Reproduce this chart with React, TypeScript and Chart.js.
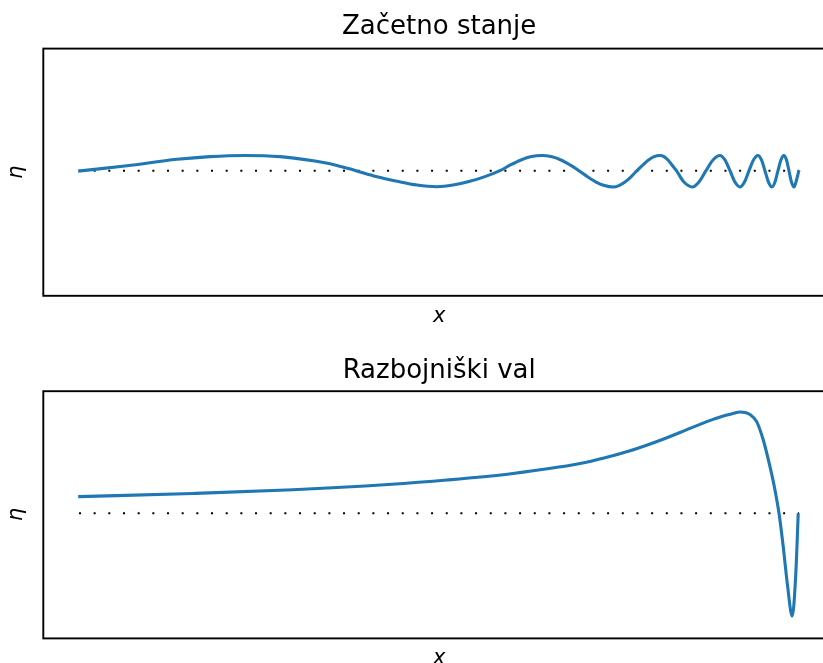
import React, { useEffect, useRef } from "react";
import { Chart, registerables } from "chart.js";

Chart.register(...registerables);

// Initial state (Začetno stanje): x positions and surface elevation η
const xInitial = [0, 6.77, 13.71, 18.29, 23.14, 27.99, 32.85, 35.9, 38.54, 41.32, 44.23, 47.0, 49.78, 52.0, 54.22, 56.44, 58.52, 59.98, 61.43, 62.89, 64.35, 65.6, 66.98, 68.24, 69.48, 70.66, 71.84, 73.02, 74.2, 75.03, 75.86, 76.7, 77.53, 78.36, 79.12, 79.89, 80.72, 81.27, 81.83, 82.38, 83.0, 84.04, 85.22, 86.12, 87.1, 88.07, 89.04, 89.73, 90.43, 91.12, 91.82, 92.44, 93.07, 93.69, 94.31, 94.8, 95.28, 95.77, 96.26, 96.67, 97.09, 97.5, 97.92, 98.27, 98.61, 98.96, 99.31, 99.65, 100];
const etaInitial = [-0.03, 0.31, 0.71, 0.88, 0.95, 0.88, 0.6, 0.33, 0, -0.36, -0.66, -0.9, -1.0, -0.9, -0.68, -0.37, 0, 0.36, 0.67, 0.88, 0.95, 0.88, 0.67, 0.36, 0, -0.38, -0.71, -0.93, -1.02, -0.93, -0.71, -0.38, 0, 0.36, 0.67, 0.88, 0.95, 0.88, 0.67, 0.36, 0, -0.71, -1.02, -0.71, 0, 0.67, 0.95, 0.67, 0, -0.71, -1.02, -0.71, 0, 0.67, 0.95, 0.67, 0, -0.71, -1.02, -0.71, 0, 0.67, 0.95, 0.67, 0, -0.71, -1.02, -0.6, 0.04];

// Rogue wave (Razbojniški val)
const xRogue = [0, 15.93, 29.8, 43.0, 51.17, 60.33, 69.62, 73.09, 76.56, 78.77, 81.14, 83.5, 84.88, 86.27, 88.07, 90.02, 90.84, 91.82, 92.51, 93.2, 94.13, 95.05, 95.98, 96.67, 97.23, 97.82, 98.38, 99.07, 99.54, 99.9];
const etaRogue = [1.04, 1.24, 1.47, 1.8, 2.08, 2.49, 3.11, 3.47, 3.91, 4.24, 4.63, 5.05, 5.31, 5.56, 5.87, 6.14, 6.24, 6.33, 6.3, 6.17, 5.73, 4.58, 2.91, 1.46, 0, -2.09, -4.38, -6.42, -3.96, 0];

// Still-water reference line
const zeroX = [0, 100];
const zeroEta = [0, 0];

const titles = ["Začetno stanje", "Razbojniški val"];
const xLabel = "x";
const yLabel = "η";

const BLUE = "#1f77b4";
const X_MIN = -4.84;
const X_MAX = 105;
const Y_MIN = -7.82;
const Y_MAX = 7.63;

function zip(xs: number[], ys: number[]) {
  return xs.map((x, i) => ({ x, y: ys[i] }));
}

function makeDecor(title: string, titleY: number, xlabelY: number, etaY: number) {
  return {
    id: "decor",
    afterDraw(chart: any) {
      const { ctx, chartArea: a } = chart;
      ctx.save();
      ctx.strokeStyle = "#000";
      ctx.lineWidth = 1.9;
      ctx.strokeRect(a.left, a.top, a.right - a.left, a.bottom - a.top);
      ctx.fillStyle = "#000";
      ctx.textAlign = "center";
      ctx.textBaseline = "alphabetic";
      const cx = (a.left + a.right) / 2;
      ctx.font = '26px "DejaVu Sans"';
      ctx.fillText(title, cx, titleY);
      ctx.font = 'italic 21px "DejaVu Sans"';
      ctx.fillText(xLabel, cx, xlabelY);
      ctx.translate(22, etaY);
      ctx.rotate(-Math.PI / 2);
      ctx.fillText(yLabel, 0, 0);
      ctx.restore();
    },
  };
}

function makeConfig(xs: number[], ys: number[], padding: any, decor: any): any {
  return {
    type: "line",
    data: {
      datasets: [
        {
          data: zip(xs, ys),
          borderColor: BLUE,
          borderWidth: 3.1,
          pointRadius: 0,
          cubicInterpolationMode: "monotone",
          fill: false,
        },
        {
          data: zip(zeroX, zeroEta),
          borderColor: "#000",
          borderWidth: 2,
          borderDash: [2, 12.67],
          borderDashOffset: -0.8,
          pointRadius: 0,
          tension: 0,
          fill: false,
        },
      ],
    },
    options: {
      responsive: false,
      animation: false,
      events: [],
      layout: { padding },
      plugins: {
        legend: { display: false },
        tooltip: { enabled: false },
        title: { display: false },
      },
      scales: {
        x: { type: "linear", min: X_MIN, max: X_MAX, display: false },
        y: { type: "linear", min: Y_MIN, max: Y_MAX, display: false },
      },
    },
    plugins: [decor],
  };
}

export default function App() {
  const ref1 = useRef<HTMLCanvasElement>(null);
  const ref2 = useRef<HTMLCanvasElement>(null);

  useEffect(() => {
    const c1 = new Chart(
      ref1.current as HTMLCanvasElement,
      makeConfig(
        xInitial,
        etaInitial,
        { left: 43.3, top: 48.6, right: 25, bottom: 39.2 },
        makeDecor(titles[0], 34, 321.5, 172.4)
      )
    );
    const c2 = new Chart(
      ref2.current as HTMLCanvasElement,
      makeConfig(
        xRogue,
        etaRogue,
        { left: 43.3, top: 56.2, right: 25, bottom: 24.6 },
        makeDecor(titles[1], 42.7, 328.5, 179.5)
      )
    );
    return () => {
      c1.destroy();
      c2.destroy();
    };
  }, []);

  return (
    <div
      style={{
        position: "fixed",
        left: 0,
        top: 0,
        width: 823,
        height: 663,
        overflow: "hidden",
        background: "#fff",
      }}
    >
      <canvas
        ref={ref1}
        width={860}
        height={335}
        style={{ position: "absolute", left: 0, top: 0, width: 860, height: 335 }}
      />
      <canvas
        ref={ref2}
        width={860}
        height={328}
        style={{ position: "absolute", left: 0, top: 335, width: 860, height: 328 }}
      />
    </div>
  );
}
